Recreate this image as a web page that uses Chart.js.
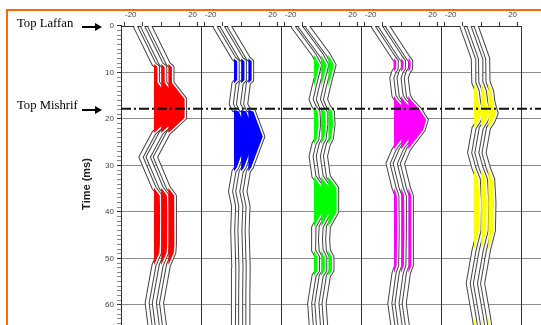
<!DOCTYPE html>
<html>
<head>
<meta charset="utf-8">
<script src="https://cdn.jsdelivr.net/npm/chart.js@4.4.1/dist/chart.umd.min.js"></script>
<style>
    html, body { margin: 0; padding: 0; background: #fff; overflow: hidden; }
    #wrap { position: relative; width: 541px; height: 325px; overflow: hidden; }
    #chart { position: absolute; left: 0; top: 0; }
    .frame { position: absolute; background: #ff6a00; }
    .lbl { position: absolute; font-family: 'Liberation Serif', serif; font-size: 12.7px; line-height: 14px; color: #000; white-space: nowrap; }
    .arrow { position: absolute; height: 2px; background: #000; }
    .arrow:after { content: ''; position: absolute; right: -7px; top: -3px; border-left: 7px solid #000; border-top: 4px solid transparent; border-bottom: 4px solid transparent; }
</style>
</head>
<body>
<div id="wrap">
    <canvas id="chart" width="541" height="352"></canvas>
    <div class="frame" style="left:6px;top:9px;width:535px;height:2px"></div>
    <div class="frame" style="left:6px;top:9px;width:2px;height:316px"></div>
    <div class="lbl" style="left:17px;top:16px">Top Laffan</div>
    <div class="arrow" style="left:82px;top:26px;width:13px"></div>
    <div class="lbl" style="left:17px;top:98px">Top Mishrif</div>
    <div class="arrow" style="left:82px;top:109px;width:13px"></div>
</div>
<script>
    // trace baselines inside each panel
    const traceOffsets = [-3.9, 0.1, 4.1];
    const xTickValues = [-20, -10, 0, 10, 20];
    const xTickLabels = [-20, 20];
    const yTickLabels = [0, 10, 20, 30, 40, 50, 60];
    const mishrifTime = 17.8;

    // time (ms) and amplitude of each wiggle
    const redTime = [0, 8.2, 8.8, 12.2, 15.7, 19.8, 23.0, 28.2, 34.8, 36.5, 40.0, 47.0, 48.8, 51.5, 59.6, 65];
    const redAmp = [-10.4, 0, 1.9, 2.0, 9.0, 9.0, 0, -7.2, 0, 3.2, 3.4, 3.3, 3.0, 0, -3.8, -2.0];

    const blueTime = [0, 7.0, 7.6, 11.6, 12.3, 16.8, 18.0, 18.4, 23.8, 30.4, 31.3, 35.6, 38.8, 44.0, 52.0, 58.0, 65];
    const blueAmp = [-10.7, 0, 1.8, 1.8, 0, -1.5, 0, 2.8, 8.0, 1.6, 0, -1.9, -0.2, -0.7, -0.1, -0.3, -0.3];

    const greenTime = [0, 6.2, 8.4, 13.1, 15.8, 17.3, 18.5, 21.2, 24.3, 25.4, 28.0, 32.4, 34.8, 40.0, 43.2, 46.0, 48.3, 49.8, 52.6, 53.8, 59.7, 65];
    const greenAmp = [-11.8, 0, 3.1, 0, -1.6, 0, 2.2, 2.6, 1.6, 0, -1.6, 0, 4.5, 4.6, 0, -0.4, 0, 2.0, 2.0, 0, -2.4, -1.4];

    const magentaTime = [0, 6.9, 7.6, 9.2, 9.8, 11.2, 15.0, 16.0, 18.0, 20.2, 22.3, 24.5, 26.0, 26.6, 29.6, 34.8, 36.5, 44.0, 51.5, 53.2, 59.7, 65];
    const magentaAmp = [-11.7, 0, 1.3, 1.2, 0, -1.2, 0, 1.5, 6.3, 9.9, 8.3, 4.0, 1.0, 0, -3.3, 0, 1.6, 1.8, 1.5, 0, -2.3, -0.4];

    const yellowTime = [0, 7.0, 12.0, 12.2, 14.0, 16.5, 18.8, 20.5, 22.0, 27.3, 30.6, 33.0, 38.0, 44.0, 48.3, 55.4, 62.5, 65];
    const yellowAmp = [-6.8, -0.4, -0.2, 0, 1.8, 2.6, 4.3, 2.5, 0, -2.4, 0, 2.4, 3.1, 2.8, 0, -3.2, 0, 1.0];

    const panels = [
        { time: redTime, amp: redAmp, color: '#ff0000' },
        { time: blueTime, amp: blueAmp, color: '#0000ff' },
        { time: greenTime, amp: greenAmp, color: '#00ff00' },
        { time: magentaTime, amp: magentaAmp, color: '#ff00ff' },
        { time: yellowTime, amp: yellowAmp, color: '#ffff00' }
    ];

    Chart.defaults.font.family = "'Liberation Sans', Arial, sans-serif";

    const datasets = [];
    panels.forEach((p, i) => {
        traceOffsets.forEach((off, k) => {
            const base = 30 - 10 * k;
            const line = p.time.map((t, j) => ({ x: off + p.amp[j], y: t }));
            const area = p.time.map((t, j) => ({ x: off + Math.max(p.amp[j], 0), y: t }));
            // double line look: grey stroke with a white core
            datasets.push({
                data: line, xAxisID: 'x' + i, yAxisID: 'y', order: base + 2,
                borderWidth: 5, borderColor: '#444', fill: false
            });
            datasets.push({
                data: line, xAxisID: 'x' + i, yAxisID: 'y', order: base + 1,
                borderWidth: 3, borderColor: '#fff', fill: false
            });
            // positive lobes filled back to the baseline, over the wiggle
            datasets.push({
                data: area, xAxisID: 'x' + i, yAxisID: 'y', order: base,
                borderWidth: 0, borderColor: 'rgba(0,0,0,0)',
                backgroundColor: p.color, fill: { value: off }
            });
        });
    });

    datasets.push({
        data: [{ x: 0, y: mishrifTime }, { x: 5.25, y: mishrifTime }],
        xAxisID: 'xg', yAxisID: 'y', order: 0,
        borderWidth: 2, borderColor: '#111', borderDash: [10, 3, 2, 3], fill: false
    });

    function panelAxis(i) {
        return {
            type: 'linear',
            position: 'top',
            stack: 'panels',
            stackWeight: 1,
            weight: 10 - i,
            min: -22.2,
            max: 22.2,
            afterBuildTicks: function (s) { s.ticks = xTickValues.map(v => ({ value: v })); },
            afterFit: function (s) { s.height = 26; },
            ticks: {
                autoSkip: false,
                align: 'inner',
                maxRotation: 0,
                minRotation: 0,
                padding: 2,
                color: '#444',
                font: { size: 8 },
                callback: function (value) { return xTickLabels.includes(value) ? String(value) : ''; }
            },
            grid: { drawOnChartArea: false, tickLength: 4, tickColor: '#333' },
            border: { display: true, color: '#333', width: 1 }
        };
    }

    const scales = {
        y: {
            type: 'linear',
            position: 'left',
            reverse: true,
            min: 0,
            max: 68,
            afterFit: function (s) { s.width = 43; },
            ticks: {
                stepSize: 1,
                autoSkip: false,
                padding: 3,
                color: '#444',
                font: { size: 8 },
                callback: function (value) { return yTickLabels.includes(value) ? String(value) : ''; }
            },
            grid: {
                lineWidth: 1,
                tickLength: 4,
                color: function (ctx) {
                    return ctx.tick && ctx.tick.value > 0 && yTickLabels.includes(ctx.tick.value) ? '#8c8c8c' : 'rgba(0,0,0,0)';
                },
                tickColor: function (ctx) {
                    return ctx.tick && yTickLabels.includes(ctx.tick.value) ? '#333' : '#888';
                }
            },
            border: { display: true, color: '#333', width: 1 },
            title: {
                display: true,
                text: 'Time (ms)',
                color: '#222',
                font: { size: 11, weight: 'bold' },
                padding: { top: 2, bottom: 0 }
            }
        },
        xg: {
            type: 'linear',
            position: 'bottom',
            min: 0,
            max: 5.25,
            afterBuildTicks: function (s) { s.ticks = [1, 2, 3, 4, 5].map(v => ({ value: v })); },
            ticks: { display: false, autoSkip: false },
            grid: { drawTicks: false, color: '#333', lineWidth: 1 },
            border: { display: false }
        },
        x5: {
            type: 'linear',
            position: 'top',
            stack: 'panels',
            stackWeight: 0.25,
            weight: 0,
            min: 0,
            max: 1,
            afterFit: function (s) { s.height = 26; },
            ticks: { display: false },
            grid: { display: false },
            border: { display: false }
        }
    };
    for (let i = 0; i < panels.length; i++) {
        scales['x' + i] = panelAxis(i);
    }

    new Chart(document.getElementById('chart').getContext('2d'), {
        type: 'line',
        data: { datasets: datasets },
        options: {
            responsive: false,
            animation: false,
            indexAxis: 'y',
            layout: { padding: { left: 78, top: 0, right: 0, bottom: 10 } },
            elements: { point: { radius: 0 }, line: { tension: 0 } },
            plugins: {
                legend: { display: false },
                tooltip: { enabled: false }
            },
            scales: scales
        }
    });
</script>
</body>
</html>
